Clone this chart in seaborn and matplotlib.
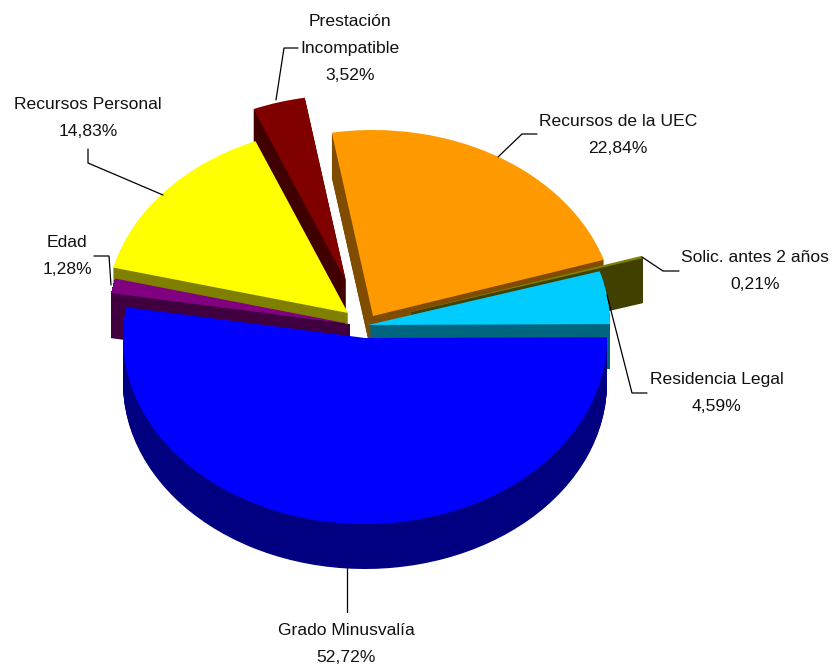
import numpy as np
import matplotlib
matplotlib.use("Agg")
import matplotlib.pyplot as plt
import seaborn as sns

# slices in clockwise order, starting from Recursos de la UEC
labels = ["Recursos de la UEC", "Solic. antes 2 años", "Residencia Legal", "Grado Minusvalía",
          "Edad", "Recursos Personal", "Prestación\nIncompatible"]
values = [22.84, 0.21, 4.59, 52.72, 1.28, 14.83, 3.52]
value_text = ["22,84%", "0,21%", "4,59%", "52,72%", "1,28%", "14,83%", "3,52%"]

top_colors = ["#FF9900", "#808000", "#00CCFF", "#0000FF", "#800080", "#FFFF00", "#800000"]
side_colors = ["#804C00", "#404000", "#006680", "#000080", "#400040", "#808000", "#400000"]

# layout, in pixels of the 832x667 picture
apex_px = [(373, 316), (411, 312), (368, 325), (365, 338), (350, 324), (348, 313), (346, 281)]
draw_order = [6, 0, 1, 2, 5, 4, 3]
label_px = [(618, 135), (755, 271), (717, 393), (346, 644), (67, 256), (88, 118), (350, 49)]
leaders_px = [
    [(498, 157), (522, 134), (537, 134)],
    [(642, 257), (663, 271), (679, 271)],
    [(607, 295), (632, 393), (647, 393)],
    [(347, 568), (347, 612)],
    [(111, 285), (109, 256), (94, 256)],
    [(163, 195), (88, 163), (88, 149)],
    [(276, 100), (284, 48), (298, 48)],
]
RX, RY = 242, 186
DEPTH = 45
W, H = 832, 667


def to_data(px, py):
    return (px - 368) / RX, (338 - py) / RY


sns.set_theme(style="white")
plt.rcParams["font.family"] = ["Liberation Sans", "DejaVu Sans"]

fig, ax = plt.subplots(figsize=(W / 100, H / 100), dpi=100)
fig.subplots_adjust(left=0, right=1, bottom=0, top=1)

# stack of pies from the bottom up gives the 3d sides
for d in range(DEPTH, -1, -1):
    colors = top_colors if d == 0 else side_colors
    wedges, _ = ax.pie(values, colors=colors, startangle=99.8, counterclock=False,
                       wedgeprops={"linewidth": 0})
    for i, w in enumerate(wedges):
        w.set_center(to_data(apex_px[i][0], apex_px[i][1] + d))
        w.set_zorder(10 + 2 * draw_order.index(i) + (1 if d == 0 else 0))
        # antialiased tips of the thin slices leave streaks when stacked
        if 0 < d < DEPTH and values[i] < 2:
            w.set_antialiased(False)

ax.set_aspect("auto")
ax.set_xlim(-368 / RX, (W - 368) / RX)
ax.set_ylim((338 - H) / RY, 338 / RY)
ax.axis("off")

for pts in leaders_px:
    xy = np.array([to_data(*p) for p in pts])
    ax.plot(xy[:, 0], xy[:, 1], color="black", lw=0.9, zorder=30, solid_joinstyle="miter")

for lab, val, (px, py) in zip(labels, value_text, label_px):
    x, y = to_data(px, py)
    ax.text(x, y, lab + "\n" + val, ha="center", va="center", fontsize=12.6, color="#111111",
            linespacing=2.0, zorder=40)

fig.savefig("out.png", dpi=100, facecolor="white")
